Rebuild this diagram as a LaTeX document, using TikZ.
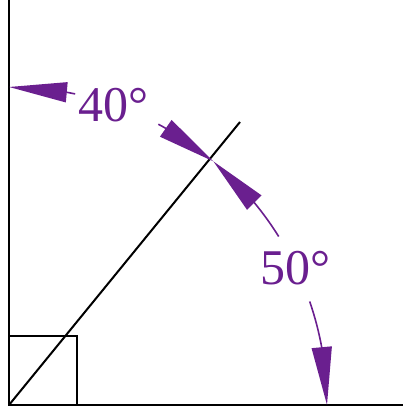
\documentclass[tikz,border=0pt]{standalone}
\usepackage{fontspec}
\setmainfont{Liberation Serif}
\usetikzlibrary{arrows.meta,bending}
\definecolor{angpurple}{RGB}{106,31,143}
\begin{document}
\begin{tikzpicture}[x=1pt,y=1pt,
  edge/.style={line width=2pt, black},
  angarc/.style={line width=1.6pt, angpurple, -{Triangle[length=58pt,width=20pt,flex]}},
  anglabel/.style={text=angpurple, font=\fontsize{50}{50}\selectfont, inner sep=0pt}]
\useasboundingbox (0,0) rectangle (403,409);
\coordinate (O) at (9,4);
\coordinate (T) at (9,409);
\coordinate (R) at (403,4);
\coordinate (D) at (240,287);
\coordinate (B) at (77,73);
\draw[edge] (T) -- (O) -- (R);
\draw[edge] (O) -- (D);
\draw[edge] (O |- B) -| (B |- O);
\draw[angarc] ([shift={(78:318)}]O) arc[start angle=78,end angle=90,radius=318];
\draw[angarc] ([shift={(62:318)}]O) arc[start angle=62,end angle=50,radius=318];
\draw[angarc] ([shift={(32:318)}]O) arc[start angle=32,end angle=50,radius=318];
\draw[angarc] ([shift={(19:318)}]O) arc[start angle=19,end angle=0,radius=318];
\node[anglabel] (l40) at (113,304) {40°};
\node[anglabel] (l50) at (295,141) {50°};
\end{tikzpicture}
\end{document}
